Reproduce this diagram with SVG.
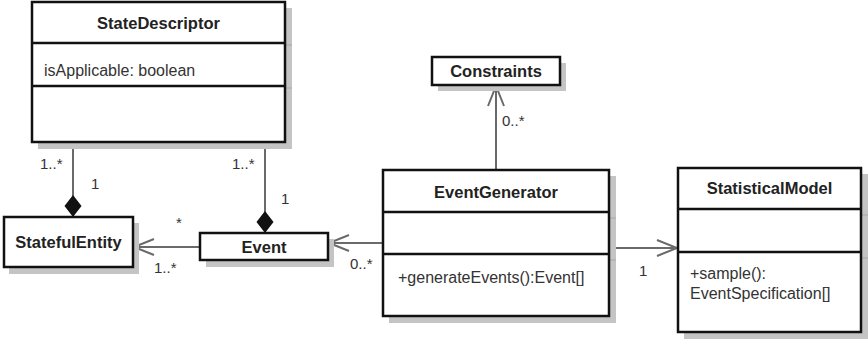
<svg xmlns="http://www.w3.org/2000/svg" width="868" height="342" viewBox="0 0 868 342">
  <style>
    .shadow { fill: #c4c4c4; }
    .tick { stroke: #a8a8a8; stroke-width: 1; }
    .box { fill: #ffffff; stroke: #111111; stroke-width: 2.5; }
    .div { stroke: #111111; stroke-width: 2.5; }
    .title { font-family: "Liberation Sans", Arial, sans-serif; font-size: 16.5px; font-weight: bold; fill: #222222; text-anchor: middle; }
    .member { font-family: "Liberation Sans", Arial, sans-serif; font-size: 16px; fill: #333333; }
    .mult { font-family: "Liberation Sans", Arial, sans-serif; font-size: 15px; fill: #333333; }
    .edge { stroke: #6a6a6a; stroke-width: 2; fill: none; }
  </style>
  <defs>
    <marker id="open" markerUnits="userSpaceOnUse" markerWidth="24" markerHeight="20" viewBox="-22 -10 24 20" refX="0" refY="0" orient="auto">
      <path d="M-20,-8 L0,0 L-20,8" fill="none" stroke="#6a6a6a" stroke-width="2"/>
    </marker>
    <marker id="diamond" markerUnits="userSpaceOnUse" markerWidth="26" markerHeight="20" viewBox="-24 -10 26 20" refX="0" refY="0" orient="auto">
      <path d="M0,0 L-11,-8.5 L-22,0 L-11,8.5 Z" fill="#111111"/>
    </marker>
  </defs>

  <!-- associations -->
  <g id="connectors">
    <line class="edge" x1="73" y1="143" x2="73" y2="217" marker-end="url(#diamond)"/>
    <line class="edge" x1="265" y1="143" x2="265" y2="233" marker-end="url(#diamond)"/>
    <line class="edge" x1="200" y1="247" x2="134" y2="247" marker-end="url(#open)"/>
    <line class="edge" x1="383" y1="243" x2="329" y2="243" marker-end="url(#open)"/>
    <line class="edge" x1="496" y1="170" x2="496" y2="86" marker-end="url(#open)"/>
    <line class="edge" x1="609" y1="248" x2="677" y2="248" marker-end="url(#open)"/>

    <text class="mult" x="40" y="169">1..*</text>
    <text class="mult" x="91" y="189">1</text>
    <text class="mult" x="232" y="169">1..*</text>
    <text class="mult" x="281" y="204">1</text>
    <text class="mult" x="176" y="228">*</text>
    <text class="mult" x="154" y="273">1..*</text>
    <text class="mult" x="350" y="269">0..*</text>
    <text class="mult" x="502" y="126">0..*</text>
    <text class="mult" x="639" y="276">1</text>
  </g>

  <g id="StateDescriptor">
    <rect class="shadow" x="38" y="8" width="254" height="141"/>
    <line class="tick" x1="286" y1="45" x2="292" y2="45"/>
    <line class="tick" x1="286" y1="88" x2="292" y2="88"/>
    <rect class="box" x="32" y="2" width="253" height="140"/>
    <line class="div" x1="32" y1="43" x2="285" y2="43"/>
    <line class="div" x1="32" y1="86" x2="285" y2="86"/>
    <text class="title" x="158.5" y="29">StateDescriptor</text>
    <text class="member" x="44" y="76">isApplicable: boolean</text>
  </g>

  <g id="StatefulEntity">
    <rect class="shadow" x="9" y="223" width="130" height="51"/>
    <rect class="box" x="4" y="217" width="129" height="50"/>
    <text class="title" x="68.5" y="248">StatefulEntity</text>
  </g>

  <g id="Event">
    <rect class="shadow" x="206" y="239" width="128" height="28"/>
    <rect class="box" x="200" y="233" width="128" height="27"/>
    <text class="title" x="264" y="252.5">Event</text>
  </g>

  <g id="Constraints">
    <rect class="shadow" x="438" y="63" width="128" height="28"/>
    <rect class="box" x="432" y="57" width="128" height="28"/>
    <text class="title" x="496" y="77">Constraints</text>
  </g>

  <g id="EventGenerator">
    <rect class="shadow" x="389" y="176" width="227" height="147"/>
    <line class="tick" x1="610" y1="218" x2="616" y2="218"/>
    <line class="tick" x1="610" y1="260" x2="616" y2="260"/>
    <rect class="box" x="383" y="170" width="226" height="146"/>
    <line class="div" x1="383" y1="212" x2="609" y2="212"/>
    <line class="div" x1="383" y1="254" x2="609" y2="254"/>
    <text class="title" x="496" y="198">EventGenerator</text>
    <text class="member" x="398" y="283">+generateEvents():Event[]</text>
  </g>

  <g id="StatisticalModel">
    <rect class="shadow" x="684" y="174" width="184" height="165"/>
    <line class="tick" x1="862" y1="215" x2="868" y2="215"/>
    <line class="tick" x1="862" y1="258" x2="868" y2="258"/>
    <rect class="box" x="678" y="168" width="183" height="164"/>
    <line class="div" x1="678" y1="209" x2="861" y2="209"/>
    <line class="div" x1="678" y1="252" x2="861" y2="252"/>
    <text class="title" x="769.5" y="194">StatisticalModel</text>
    <text class="member" x="690" y="279">+sample():</text>
    <text class="member" x="690" y="299">EventSpecification[]</text>
  </g>
</svg>
